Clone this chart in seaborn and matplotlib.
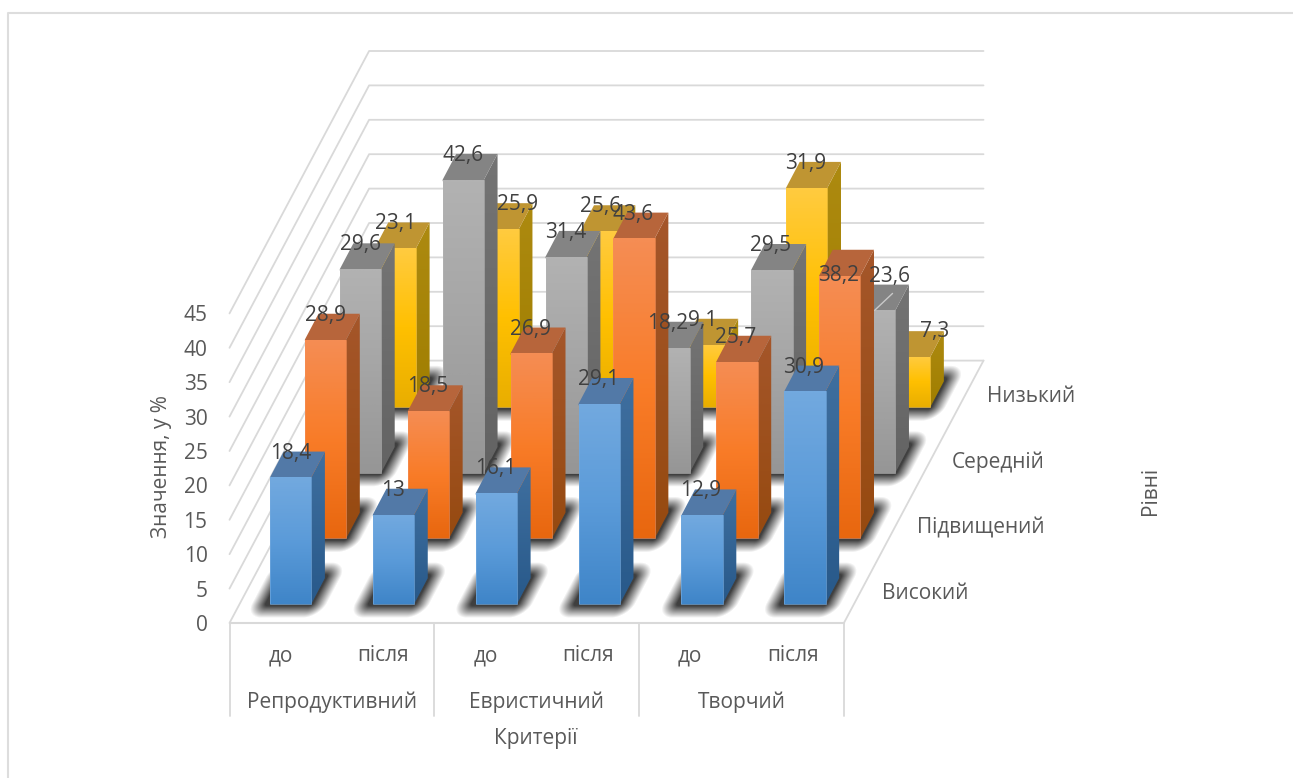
import numpy as np
import pandas as pd
import matplotlib
matplotlib.use("Agg")
import matplotlib.pyplot as plt
from matplotlib.colors import ListedColormap
from matplotlib.patches import Polygon
import seaborn as sns

# ---- data ----
groups = ["Репродуктивний", "Евристичний", "Творчий"]
stages = ["до", "після"]
levels = ["Високий", "Підвищений", "Середній", "Низький"]
vysokyi = [18.4, 13, 16.1, 29.1, 12.9, 30.9]
pidvyshchenyi = [28.9, 18.5, 26.9, 43.6, 25.7, 38.2]
serednii = [29.6, 42.6, 31.4, 18.2, 29.5, 23.6]
nyzkyi = [23.1, 25.9, 25.6, 9.1, 31.9, 7.3]
value_ticks = [0, 5, 10, 15, 20, 25, 30, 35, 40, 45]

categories = [f"{g}|{s}" for g in groups for s in stages]
df = pd.DataFrame({"Високий": vysokyi, "Підвищений": pidvyshchenyi,
                   "Середній": serednii, "Низький": nyzkyi}, index=categories)
long = df.reset_index(names="cat").melt("cat", var_name="level", value_name="value")
long["c"] = long["cat"].map({k: i for i, k in enumerate(categories)})
long["s"] = long["level"].map({k: i for i, k in enumerate(levels)})

# ---- style ----
sns.set_theme(style="white")
plt.rcParams["font.family"] = ["Open Sans", "DejaVu Sans"]
GRID = "#D9D9D9"
TXT = "#595959"
LAB = "#404040"
FS = 15
TY = 2.5      # text baseline nudge

styles = {
    "Високий": dict(front=["#72A9DF", "#5B9BD9", "#3F85C8"], side=["#3F6F9F", "#28598A"], top="#5279A7"),
    "Підвищений": dict(front=["#F58D54", "#F97C28", "#E8670F"], side=["#A5562A", "#964A10"], top="#B7653B"),
    "Середній": dict(front=["#B2B2B2", "#A5A5A5", "#969696"], side=["#747474", "#636363"], top="#848484"),
    "Низький": dict(front=["#FFCB40", "#FFC000", "#E9AE00"], side=["#AD8A10", "#A07E00"], top="#BF9532"),
}
# data labels that were dragged away from their default place (series, category): (dx, dy)
label_nudge = {(3, 1): (20, 0), (1, 5): (0, 24), (2, 5): (16, -10), (3, 5): (27, -1)}

# ---- oblique projection ----
X0, Y0 = 229.5, 623.0       # floor front-left corner
DX, DY = 34.9, -65.6        # one series of depth
CATW = 102.4                # one category of floor width
BARSTEP = 102.85            # distance between neighbouring bars
VAL = 6.88                  # pixels per value unit
BARW, BDX, BDY = 41.3, 13.6, -25.8
BAR_X0 = 270.0 - X0 - 0.29 * DX
PAD_S = 0.29


def proj(c, s, v=0.0):
    return X0 + c * CATW + s * DX, Y0 + s * DY - v * VAL


def bar_origin(c, s):
    return X0 + BAR_X0 + c * BARSTEP + (s + PAD_S) * DX, Y0 + (s + PAD_S) * DY


fig = plt.figure(figsize=(12.93, 7.78), dpi=100)
ax = fig.add_axes([0, 0, 1, 1])
ax.set_xlim(0, 1293)
ax.set_ylim(778, 0)
ax.set_axis_off()
sns.despine(ax=ax, left=True, bottom=True)

# chart frame
ax.plot([7.5, 7.5, 1293], [778, 12.5, 12.5], color="#DDDDDD", lw=1.5, solid_capstyle="butt")

# walls
nS, nC = len(levels), len(categories)
for v in value_ticks:
    xa, ya = proj(0, 0, v)
    xb, yb = proj(0, nS, v)
    xc, yc = proj(nC, nS, v)
    ax.plot([xa, xb, xc], [ya, yb, yc], color=GRID, lw=1.3, zorder=1)
    ax.text(xa - 22, ya + TY, str(v), ha="right", va="center", color=TXT, fontsize=FS)
# floor
xa, ya = proj(nC, 0)
xb, yb = proj(nC, nS)
ax.plot([xa, xb], [ya, yb], color=GRID, lw=1.3, zorder=1)
ax.plot([X0, xa], [Y0, ya], color=GRID, lw=1.5, zorder=1)

# axis table below
for i in range(len(groups) + 1):
    x = proj(i * 2, 0)[0]
    ax.plot([x, x], [Y0, 716], color=GRID, lw=1.3, zorder=1)
for i, k in enumerate(categories):
    x = proj(i + 0.5, 0)[0]
    ax.text(x, 653 + TY, k.split("|")[1], ha="center", va="center", color=TXT, fontsize=FS)
for i, g in enumerate(groups):
    x = proj(2 * i + 1, 0)[0]
    ax.text(x, 700 + TY, g, ha="center", va="center", color=TXT, fontsize=FS)
ax.text(536, 736 + TY, "Критерії", ha="center", va="center", color=TXT, fontsize=FS)
ax.text(162, 467, "Значення, у %", rotation=90, ha="center", va="center", color=TXT, fontsize=FS)
ax.text(1150, 491, "Рівні", rotation=90, ha="center", va="center", color=TXT, fontsize=FS)
for s, lev in enumerate(levels):
    x, y = proj(nC, s + 0.5)
    ax.text(x + 21, y + 1 + TY, lev, ha="left", va="center", color=TXT, fontsize=FS)


def gradient(poly, colors, zorder):
    """Vertical gradient clipped to a polygon."""
    poly = np.asarray(poly)
    cmap = ListedColormap(sns.blend_palette(colors, 64))
    x0, x1, y0, y1 = poly[:, 0].min(), poly[:, 0].max(), poly[:, 1].min(), poly[:, 1].max()
    im = ax.imshow(np.linspace(0, 1, 128)[:, None], cmap=cmap, aspect="auto",
                   extent=(x0, x1, y1, y0), zorder=zorder, interpolation="bilinear")
    im.set_clip_path(Polygon(poly, transform=ax.transData))


def shadow(foot, zorder, blur=7.0, grow=8.0):
    foot = np.asarray(foot) + np.array([-1.0, -1.0])
    m = 26
    x0, y0 = np.floor(foot.min(0) - m)
    x1, y1 = np.ceil(foot.max(0) + m)
    xs, ys = np.meshgrid(np.arange(x0, x1) + .5, np.arange(y0, y1) + .5)
    # distance to the convex footprint, rounded at the corners
    n = len(foot)
    dist = []
    for i in range(n):
        p, q = foot[i], foot[(i + 1) % n]
        e = q - p
        nrm = np.array([e[1], -e[0]]) / np.hypot(*e)
        if np.dot(nrm, foot.mean(0) - p) > 0:
            nrm = -nrm
        dist.append((xs - p[0]) * nrm[0] + (ys - p[1]) * nrm[1])
    dist = np.clip(np.array(dist), 0, None)
    d = np.sqrt((dist ** 2).sum(0))
    t = np.clip((blur + grow - d) / (2 * blur), 0, 1)
    rgba = np.zeros(xs.shape + (4,))
    rgba[..., :3] = 0.25
    rgba[..., 3] = np.clip(1.15 * t, 0, 1)
    ax.imshow(rgba, extent=(x0, x1, y1, y0), aspect="auto", zorder=zorder, interpolation="bilinear")


# ---- bars, painted back to front ----
z = 2.0
for s in reversed(range(nS)):
    sub = long[long["s"] == s].sort_values("c")
    st = styles[levels[s]]
    for _, r in sub.iterrows():
        x, y = bar_origin(r["c"], s)
        shadow([(x, y), (x + BARW, y), (x + BARW + BDX, y + BDY), (x + BDX, y + BDY)], z)
    z += 0.01
    for _, r in sub.iterrows():
        x, y = bar_origin(r["c"], s)
        top = y - r["value"] * VAL
        fa = [(x, y), (x + BARW, y), (x + BARW, top), (x, top)]
        # side and top faces run a little under the front face so no seam shows
        si = [(x + BARW - 2, y), (x + BARW, y), (x + BARW + BDX, y + BDY),
              (x + BARW + BDX, top + BDY), (x + BARW, top), (x + BARW - 2, top)]
        to = [(x, top + 1.5), (x, top), (x + BDX, top + BDY), (x + BARW + BDX, top + BDY),
              (x + BARW, top), (x + BARW, top + 1.5)]
        gradient(si, st["side"], z)
        ax.add_patch(Polygon(to, closed=True, fc=st["top"], ec="none", zorder=z + 0.001))
        gradient(fa, st["front"], z + 0.002)
        ax.add_patch(Polygon(fa, closed=True, fc="none", ec=st["front"][0], lw=0.7, alpha=0.7, zorder=z + 0.003))
        if levels[s] == "Середній" and r["c"] == nC - 1:
            # faint render artefact crossing the top face of this bar
            ax.plot([x + 20.5, x + 38.5], [top, top - 17], color="#C9C9C9", lw=1.0, zorder=z + 0.004)
        z += 0.01
        nx, ny = label_nudge.get((int(r["s"]), int(r["c"])), (0, 0))
        ax.text(x + BARW / 2 + nx - 0.3 * r["c"], top + BDY - 1 + TY + ny, f"{r['value']:g}".replace(".", ","),
                ha="center", va="center", color=LAB, fontsize=FS, zorder=50)

ax.set_xlim(0, 1293)
ax.set_ylim(778, 0)
fig.savefig("out.png", dpi=100)
